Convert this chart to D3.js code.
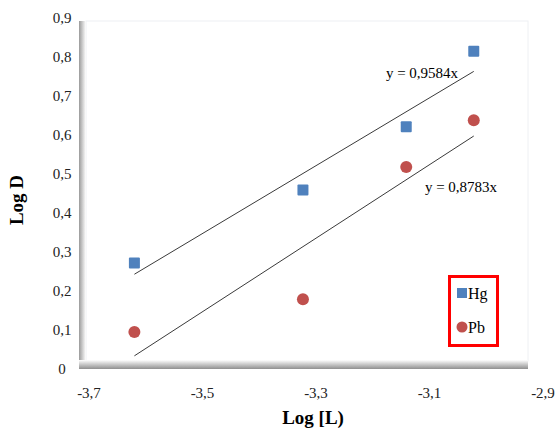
<!DOCTYPE html>
<html>
<head>
<meta charset="utf-8">
<script src="https://cdn.jsdelivr.net/npm/d3@7"></script>
<style>
	body { margin: 0; background: #fff; }
	svg { display: block; }
	text { font-family: "Times New Roman", Times, "Liberation Serif", "Noto Serif", "DejaVu Serif", serif; }
</style>
</head>
<body>
<svg id="chart" width="557" height="430"></svg>
<script>
// chart data
var logL = [-3.62, -3.323, -3.141, -3.022];
var hgLogD = [0.272, 0.459, 0.621, 0.815];
var pbLogD = [0.095, 0.179, 0.518, 0.638];
var xTicks = [-3.7, -3.5, -3.3, -3.1, -2.9];
var yTicks = [0, 0.1, 0.2, 0.3, 0.4, 0.5, 0.6, 0.7, 0.8, 0.9];
var seriesNames = ["Hg", "Pb"];
var fitLabels = ["y = 0,9584x", "y = 0,8783x"];

var svg = d3.select("#chart");

var x = d3.scaleLinear().domain([-3.7, -2.9]).range([89, 543]);
var y = d3.scaleLinear().domain([0, 0.9]).range([369, 18]);

var fmt = function(d) { return String(d).replace(".", ","); };

// plot frame: grey wall on the left and floor at the bottom
var defs = svg.append("defs");
var wallGrad = defs.append("linearGradient").attr("id", "wall").attr("x1", 0).attr("x2", 1).attr("y1", 0).attr("y2", 0);
wallGrad.append("stop").attr("offset", 0).attr("stop-color", "#9a9a9a");
wallGrad.append("stop").attr("offset", 1).attr("stop-color", "#ffffff");
var floorGrad = defs.append("linearGradient").attr("id", "floor").attr("x1", 0).attr("x2", 0).attr("y1", 0).attr("y2", 1);
floorGrad.append("stop").attr("offset", 0).attr("stop-color", "#ffffff");
floorGrad.append("stop").attr("offset", 1).attr("stop-color", "#8f8f8f");

svg.append("rect").attr("x", 86).attr("y", 21).attr("width", 442).attr("height", 340)
	.attr("fill", "none").attr("stroke", "#eef0f3").attr("stroke-width", 1);
svg.append("rect").attr("x", 79).attr("y", 21).attr("width", 7).attr("height", 348).attr("fill", "url(#wall)");
svg.append("rect").attr("x", 79).attr("y", 360).attr("width", 449).attr("height", 9).attr("fill", "url(#floor)");

// tick labels
svg.selectAll(".ylab").data(yTicks).enter().append("text")
	.attr("class", "ylab")
	.attr("x", 62).attr("y", function(d) { return y(d) + 5; })
	.attr("text-anchor", "middle").attr("font-size", 15).attr("fill", "#222")
	.text(fmt);

svg.selectAll(".xlab").data(xTicks).enter().append("text")
	.attr("class", "xlab")
	.attr("x", function(d) { return x(d); }).attr("y", 398)
	.attr("text-anchor", "middle").attr("font-size", 15).attr("fill", "#222")
	.text(fmt);

// axis titles
svg.append("text").attr("transform", "translate(23,200) rotate(-90)")
	.attr("text-anchor", "middle").attr("font-size", 19).attr("font-weight", "bold")
	.text("Log D");
svg.append("text").attr("x", 313).attr("y", 424)
	.attr("text-anchor", "middle").attr("font-size", 19).attr("font-weight", "bold")
	.text("Log [L)");

// linear fit of each series, drawn over the data range
function fit(xs, ys) {
	var mx = d3.mean(xs), my = d3.mean(ys);
	var sxy = 0, sxx = 0;
	for (var i = 0; i < xs.length; i++) {
		sxy += (xs[i] - mx) * (ys[i] - my);
		sxx += (xs[i] - mx) * (xs[i] - mx);
	}
	var b = sxy / sxx;
	return function(v) { return my + b * (v - mx); };
}

var allSeries = [hgLogD, pbLogD];
var x0 = d3.min(logL), x1 = d3.max(logL);
allSeries.forEach(function(ys) {
	var f = fit(logL, ys);
	svg.append("line")
		.attr("x1", x(x0)).attr("y1", y(f(x0)))
		.attr("x2", x(x1)).attr("y2", y(f(x1)))
		.attr("stroke", "#3a3a3a").attr("stroke-width", 1);
});

svg.append("text").attr("x", 422).attr("y", 78).attr("text-anchor", "middle")
	.attr("font-size", 15).text(fitLabels[0]);
svg.append("text").attr("x", 461).attr("y", 192).attr("text-anchor", "middle")
	.attr("font-size", 15).text(fitLabels[1]);

// markers
svg.selectAll(".hg").data(logL).enter().append("rect")
	.attr("class", "hg")
	.attr("x", function(d) { return x(d) - 5.5; })
	.attr("y", function(d, i) { return y(hgLogD[i]) - 5.5; })
	.attr("width", 11).attr("height", 11).attr("rx", 1)
	.attr("fill", "#4f81bd");

svg.selectAll(".pb").data(logL).enter().append("circle")
	.attr("class", "pb")
	.attr("cx", function(d) { return x(d); })
	.attr("cy", function(d, i) { return y(pbLogD[i]); })
	.attr("r", 6)
	.attr("fill", "#c0504d");

// legend
var lg = svg.append("g");
lg.append("rect").attr("x", 449.5).attr("y", 276.5).attr("width", 48).attr("height", 69)
	.attr("fill", "#fff").attr("stroke", "#ff0000").attr("stroke-width", 3);
lg.append("rect").attr("x", 457).attr("y", 288).attr("width", 10).attr("height", 10).attr("fill", "#4f81bd");
lg.append("circle").attr("cx", 462).attr("cy", 327).attr("r", 5.5).attr("fill", "#c0504d");
lg.append("text").attr("x", 468).attr("y", 299).attr("font-size", 16).text(seriesNames[0]);
lg.append("text").attr("x", 468).attr("y", 333).attr("font-size", 16).text(seriesNames[1]);
</script>
</body>
</html>
